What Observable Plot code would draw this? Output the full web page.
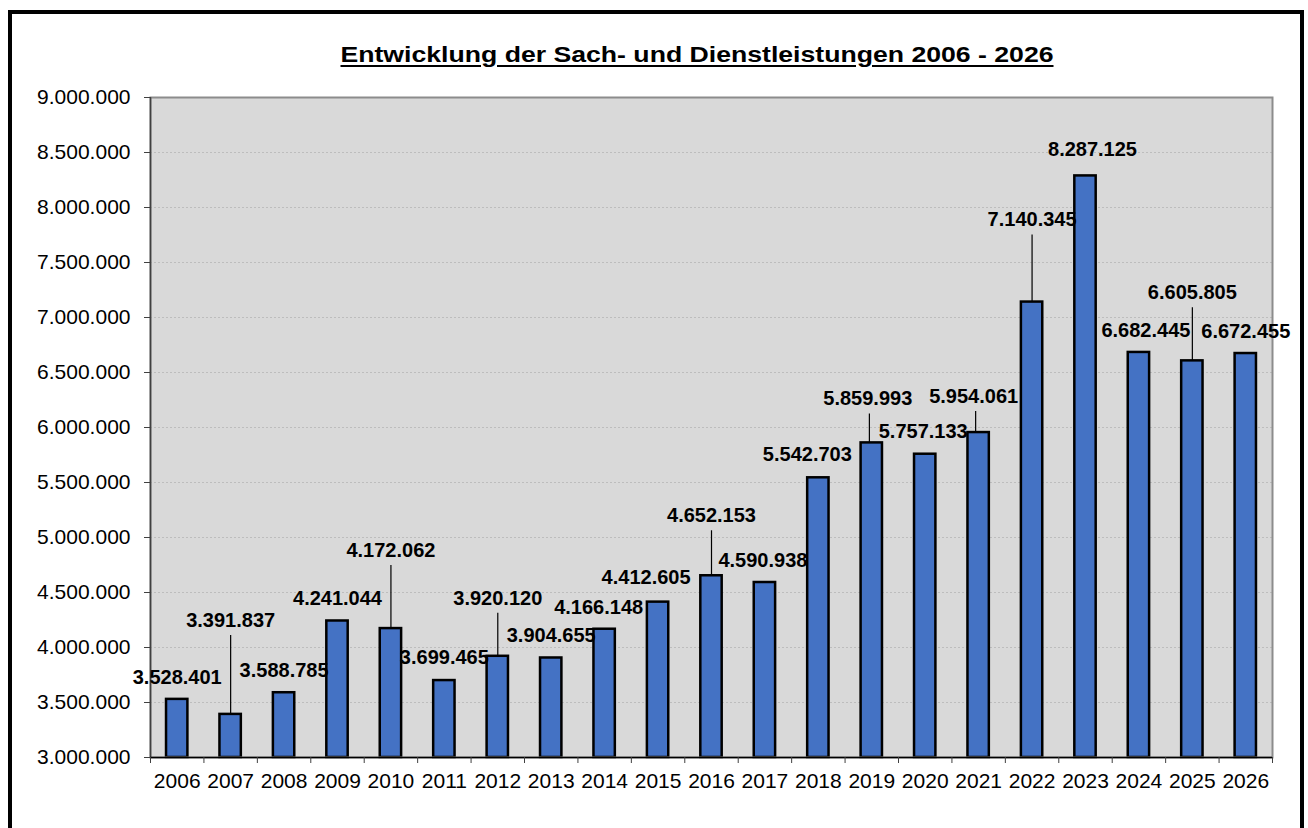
<!DOCTYPE html>
<html>
<head>
<meta charset="utf-8">
<script src="https://cdn.jsdelivr.net/npm/d3@7"></script>
<script src="https://cdn.jsdelivr.net/npm/@observablehq/plot@0.6"></script>
<style>
html, body { margin: 0; padding: 0; background: #fff; width: 1308px; height: 828px; overflow: hidden; font-family: "Liberation Sans", Arial, sans-serif; }
#frame { position: absolute; left: 8px; top: 10px; width: 1296px; height: 840px; border: 4px solid #000; box-sizing: border-box; }
#chart { position: absolute; left: 0; top: 0; }
#title { position: absolute; left: 696.5px; top: 41.5px; transform: translateX(-50%) scaleX(1.21); transform-origin: center; font-weight: bold; font-size: 22px; line-height: 25px; text-decoration: underline; text-decoration-thickness: 2px; text-underline-offset: 3px; color: #000; white-space: nowrap; }
</style>
</head>
<body>
<div id="frame"></div>
<div id="chart"></div>
<div id="title"></div>
<script>
// ---- data ----
const titleText = "Entwicklung der Sach- und Dienstleistungen 2006 - 2026";
const years = ["2006","2007","2008","2009","2010","2011","2012","2013","2014","2015","2016","2017","2018","2019","2020","2021","2022","2023","2024","2025","2026"];
const values = [3528401, 3391837, 3588785, 4241044, 4172062, 3699465, 3920120, 3904655, 4166148, 4412605, 4652153, 4590938, 5542703, 5859993, 5757133, 5954061, 7140345, 8287125, 6682445, 6605805, 6672455];
const yTicks = [3000000, 3500000, 4000000, 4500000, 5000000, 5500000, 6000000, 6500000, 7000000, 7500000, 8000000, 8500000, 9000000];
const leaderYears = ["2007","2010","2012","2016","2019","2021","2022","2025"];

// ---- label layout (pixel offsets of each value label from its bar top) ----
const labelDy = [-22, -94, -22, -22, -78, -23, -58, -22, -22, -25, -60, -22, -23, -44, -23, -36, -82, -26, -22, -68, -22];
const labelDx = [0, 0, 0, 0, 0, 0, 0, 0, -6, -12, 0, -2, -11, -4, -2, -5, 0, 7, 7, 0, 0];

document.getElementById("title").textContent = titleText;

const fmt = d3.formatLocale({decimal: ",", thousands: ".", grouping: [3], currency: ["", " €"]}).format(",d");

const W = 1308, H = 828, mL = 150, mR = 36, mT = 97, mB = 71;
const step = (W - mL - mR) / years.length;
const data = years.map((year, i) => ({year, value: values[i], dx: labelDx[i], dy: labelDy[i]}));
const font = "'Liberation Sans', Arial, sans-serif";

const labelMarks = data.map(d => Plot.text([d], {
  x: "year", y: "value", text: r => fmt(r.value), dx: d.dx, dy: d.dy,
  fontSize: 20, fontWeight: "bold", fill: "#000", fontFamily: font
}));
const leaderMarks = data.filter(d => leaderYears.includes(d.year)).map(d => Plot.ruleX([d], {
  x: "year", y1: "value", y2: "value", insetTop: 0, insetBottom: -d.dy - 15, dx: d.dx * 0.6,
  stroke: "#000", strokeWidth: 1.2
}));

const plot = Plot.plot({
  width: W, height: H,
  marginLeft: mL, marginRight: mR, marginTop: mT, marginBottom: mB,
  style: {fontFamily: font, background: "transparent", overflow: "visible"},
  x: {domain: years, paddingInner: 0.6, paddingOuter: 0.3, round: false, label: null},
  y: {domain: [3000000, 9000000], label: null},
  marks: [
    Plot.frame({fill: "#d9d9d9"}),
    Plot.ruleY(yTicks.slice(1, -1), {stroke: "#bdbdbd", strokeWidth: 1, strokeDasharray: "2,2"}),
    Plot.barY(data, {x: "year", y1: 3000000, y2: "value", fill: "#4472c4", stroke: "#000", strokeWidth: 2.5}),
    Plot.frame({stroke: "#8c8c8c", strokeWidth: 2}),
    Plot.ruleX([years[0]], {x: d => d, dx: -step / 2, stroke: "#404040", strokeWidth: 1.5}),
    Plot.ruleY([3000000], {stroke: "#000", strokeWidth: 1.5}),
    Plot.ruleX(years, {x: d => d, y1: 3000000, y2: 3000000, insetTop: 6, dx: -step / 2, stroke: "#404040", strokeWidth: 1}),
    Plot.ruleX([years[years.length - 1]], {x: d => d, y1: 3000000, y2: 3000000, insetTop: 6, dx: step / 2, stroke: "#404040", strokeWidth: 1}),
    Plot.axisY({ticks: yTicks, tickFormat: fmt, tickSize: 6, tickPadding: 14, fontSize: 21, stroke: "#404040", fill: "#000"}),
    Plot.axisX({tickSize: 0, tickPadding: 16, fontSize: 21, fill: "#000"}),
    ...leaderMarks,
    ...labelMarks
  ]
});
document.getElementById("chart").appendChild(plot);
</script>
</body>
</html>
